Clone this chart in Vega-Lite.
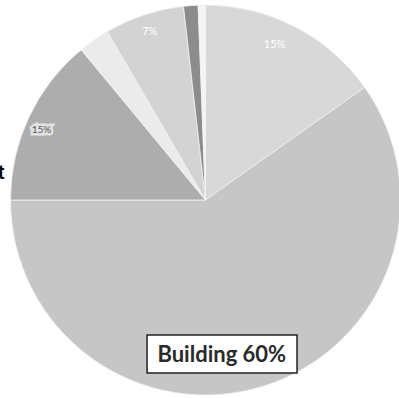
{
  "$schema": "https://vega.github.io/schema/vega-lite/v6.json",
  "width": 387,
  "height": 396,
  "autosize": {"type": "none"},
  "padding": {"left": 12, "right": 0, "top": 2, "bottom": 0},
  "background": "white",
  "view": {"stroke": null},
  "data": {
    "values": [
      {"name": "A", "value": 15.2, "ord": 1, "label": "15%"},
      {"name": "Building", "value": 59.8, "ord": 2, "label": "Building 60%"},
      {"name": "Equipment", "value": 14.0, "ord": 3, "label": "15%"},
      {"name": "D", "value": 2.6, "ord": 4, "label": ""},
      {"name": "E", "value": 6.6, "ord": 5, "label": "7%"},
      {"name": "F", "value": 1.2, "ord": 6, "label": ""},
      {"name": "G", "value": 0.6, "ord": 7, "label": ""}
    ]
  },
  "layer": [
    {
      "mark": {"type": "arc", "outerRadius": 195, "stroke": "#f2f2f2", "strokeWidth": 0.8},
      "encoding": {
        "theta": {"field": "value", "type": "quantitative", "stack": true},
        "order": {"field": "ord", "type": "quantitative"},
        "color": {
          "field": "name", "type": "nominal", "legend": null,
          "scale": {
            "domain": ["A", "Building", "Equipment", "D", "E", "F", "G"],
            "range": ["#d8d8d8", "#c6c6c6", "#adadad", "#ebebeb", "#d3d3d3", "#8c8c8c", "#f4f4f4"]
          }
        }
      }
    },
    {
      "mark": {"type": "text", "radius": 170, "dx": -9, "dy": -4, "fill": "white", "fontSize": 11, "font": "Lato"},
      "encoding": {
        "theta": {"field": "value", "type": "quantitative", "stack": true},
        "order": {"field": "ord", "type": "quantitative"},
        "text": {"condition": {"test": "datum.name === 'A'", "field": "label"}, "value": ""}
      }
    },
    {
      "mark": {"type": "text", "radius": 177, "fill": "white", "fontSize": 11, "font": "Lato"},
      "encoding": {
        "theta": {"field": "value", "type": "quantitative", "stack": true},
        "order": {"field": "ord", "type": "quantitative"},
        "text": {"condition": {"test": "datum.name === 'E'", "field": "label"}, "value": ""}
      }
    },
    {
      "mark": {"type": "text", "radius": 178, "dx": -3, "dy": 6, "fill": "#e2e2e2", "stroke": "#e2e2e2", "strokeWidth": 5, "fontSize": 10, "font": "Lato"},
      "encoding": {
        "theta": {"field": "value", "type": "quantitative", "stack": true},
        "order": {"field": "ord", "type": "quantitative"},
        "text": {"condition": {"test": "datum.name === 'Equipment'", "field": "label"}, "value": ""}
      }
    },
    {
      "mark": {"type": "text", "radius": 178, "dx": -3, "dy": 6, "fill": "#555555", "fontSize": 10, "font": "Lato"},
      "encoding": {
        "theta": {"field": "value", "type": "quantitative", "stack": true},
        "order": {"field": "ord", "type": "quantitative"},
        "text": {"condition": {"test": "datum.name === 'Equipment'", "field": "label"}, "value": ""}
      }
    },
    {
      "mark": {"type": "text", "radius": 200, "dx": -20, "dy": 58.5, "align": "right", "fill": "black", "fontSize": 20, "fontWeight": "bold", "font": "Liberation Sans"},
      "encoding": {
        "theta": {"field": "value", "type": "quantitative", "stack": true},
        "order": {"field": "ord", "type": "quantitative"},
        "text": {"condition": {"test": "datum.name === 'Equipment'", "field": "name"}, "value": ""}
      }
    },
    {
      "transform": [{"filter": "datum.name === 'Building'"}],
      "mark": {"type": "rect", "fill": "white", "stroke": "#222222", "strokeWidth": 1.5},
      "encoding": {
        "x": {"datum": -0.302, "type": "quantitative", "scale": {"domain": [-1, 1]}, "axis": null},
        "x2": {"datum": 0.473},
        "y": {"datum": -0.682, "type": "quantitative", "scale": {"domain": [-1, 1]}, "axis": null},
        "y2": {"datum": -0.874}
      }
    },
    {
      "mark": {"type": "text", "radius": 156, "dx": -31, "dy": 6.5, "fill": "#2a2a2a", "fontSize": 22, "fontWeight": "bold", "font": "Lato"},
      "encoding": {
        "theta": {"field": "value", "type": "quantitative", "stack": true},
        "order": {"field": "ord", "type": "quantitative"},
        "text": {"condition": {"test": "datum.name === 'Building'", "field": "label"}, "value": ""}
      }
    }
  ]
}
